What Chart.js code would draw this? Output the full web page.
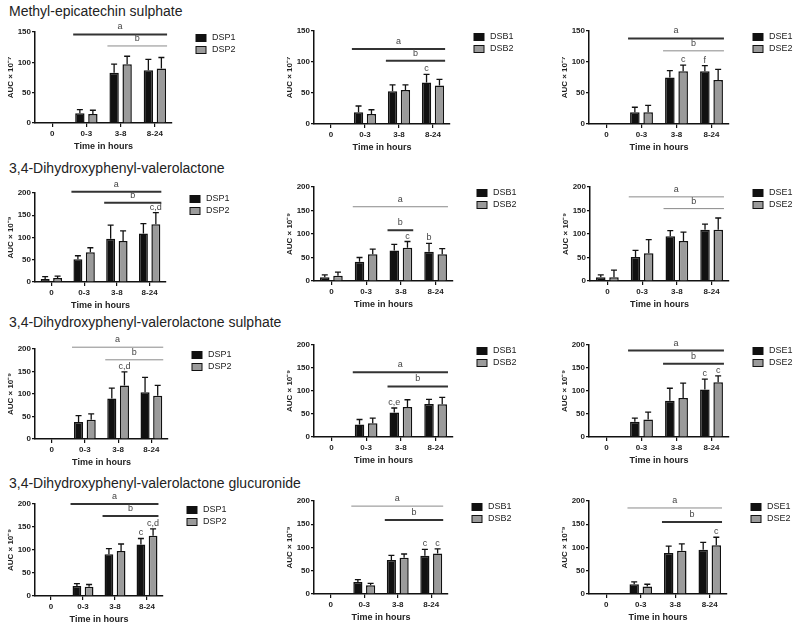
<!DOCTYPE html>
<html>
<head>
<meta charset="utf-8">
<script src="https://cdn.jsdelivr.net/npm/chart.js@4/dist/chart.umd.min.js"></script>
<style>
  body { margin: 0; background: #fff; width: 794px; height: 630px; position: relative; overflow: hidden;
         font-family: "Liberation Sans", Arial, sans-serif; }
  .ttl { position: absolute; left: 9px; font-size: 14px; line-height: 16px; color: #222; white-space: nowrap; }
  canvas { position: absolute; }
</style>
</head>
<body>
<script>
// ---- data ----
const categories = ['0', '0-3', '3-8', '8-24'];
const rowTitles = [
  'Methyl-epicatechin sulphate',
  '3,4-Dihydroxyphenyl-valerolactone',
  '3,4-Dihydroxyphenyl-valerolactone sulphate',
  '3,4-Dihydroxyphenyl-valerolactone glucuronide'
];
const yTitles = ['AUC × 10⁻⁷', 'AUC × 10⁻⁹', 'AUC × 10⁻⁹', 'AUC × 10⁻⁹'];
const yMax = [150, 200, 200, 200];
const groupNames = [['DSP1', 'DSP2'], ['DSB1', 'DSB2'], ['DSE1', 'DSE2']];

// methyl-epicatechin sulphate
const mesP1 = [0, 16, 83, 87],   mesP1sd = [0, 6, 14, 18];
const mesP2 = [0, 15, 97, 90],   mesP2sd = [0, 6, 13, 18];
const mesB1 = [0, 19, 53, 67],   mesB1sd = [0, 10, 10, 13];
const mesB2 = [0, 16, 55, 62],   mesB2sd = [0, 7, 8, 10];
const mesE1 = [0, 19, 75, 85],   mesE1sd = [0, 8, 11, 9];
const mesE2 = [0, 19, 85, 71],   mesE2sd = [0, 11, 10, 17];
// dihydroxyphenyl-valerolactone
const dvP1 = [7, 51, 97, 109],   dvP1sd = [5, 8, 31, 22];
const dvP2 = [9, 67, 92, 130],   dvP2sd = [4, 10, 23, 26];
const dvB1 = [8, 41, 65, 62],    dvB1sd = [5, 9, 13, 18];
const dvB2 = [11, 57, 71, 57],   dvB2sd = [8, 11, 13, 12];
const dvE1 = [8, 51, 95, 109],   dvE1sd = [5, 14, 12, 12];
const dvE2 = [8, 59, 85, 109],   dvE2sd = [15, 29, 19, 25];
// ... sulphate
const dvsP1 = [0, 38, 90, 104],  dvsP1sd = [0, 14, 23, 33];
const dvsP2 = [0, 43, 119, 96],  dvsP2sd = [0, 13, 30, 23];
const dvsB1 = [0, 27, 53, 72],   dvsB1sd = [0, 11, 10, 10];
const dvsB2 = [0, 30, 65, 71],   dvsB2sd = [0, 11, 16, 15];
const dvsE1 = [0, 33, 79, 103],  dvsE1sd = [0, 8, 27, 23];
const dvsE2 = [0, 38, 85, 119],  dvsE2sd = [0, 16, 32, 14];
// ... glucuronide
const dvgP1 = [0, 22, 91, 112],  dvgP1sd = [0, 5, 12, 13];
const dvgP2 = [0, 20, 98, 131],  dvgP2sd = [0, 5, 15, 15];
const dvgB1 = [0, 26, 73, 82],   dvgB1sd = [0, 5, 10, 14];
const dvgB2 = [0, 19, 78, 87],   dvgB2sd = [0, 4, 8, 10];
const dvgE1 = [0, 21, 88, 95],   dvgE1sd = [0, 5, 15, 16];
const dvgE2 = [0, 16, 93, 105],  dvgE2sd = [0, 5, 15, 17];

// letters above bars
const none = ['', '', '', ''];
const tagsMesB1 = ['', '', '', 'c'];
const tagsMesE1 = ['', '', '', 'f'],  tagsMesE2 = ['', '', 'c', ''];
const tagsDvP2 = ['', '', '', 'c,d'];
const tagsDvB1 = ['', '', '', 'b'],   tagsDvB2 = ['', '', 'c', ''];
const tagsDvsP2 = ['', '', 'c,d', ''];
const tagsDvsB1 = ['', '', 'c,e', ''];
const tagsDvsE = ['', '', '', 'c'];
const tagsDvgP1 = ['', '', '', 'c'],  tagsDvgP2 = ['', '', '', 'c,d'];
const tagsDvgB = ['', '', '', 'c'];
const tagsDvgE2 = ['', '', '', 'c'];

// significance lines: [from category, to category, y value, letter]
const linesMesP = [[1, 3, 146, 'a'], [2, 3, 127, 'b']];
const linesMesB = [[1, 3, 121, 'a'], [2, 3, 102, 'b']];
const linesMesE = [[1, 3, 138, 'a'], [2, 3, 118, 'b']];
const linesDvP  = [[1, 3, 203, 'a'], [2, 3, 178, 'b']];
const linesDvB  = [[1, 3, 158, 'a'], [2, 2, 108, 'b']];
const linesDvE  = [[1, 3, 179, 'a'], [2, 3, 154, 'b']];
const linesDvsP = [[1, 3, 204, 'a'], [2, 3, 176, 'b']];
const linesDvsB = [[1, 3, 141, 'a'], [2, 3, 110, 'b']];
const linesDvsE = [[1, 3, 188, 'a'], [2, 3, 159, 'b']];
const linesDvgP = [[1, 3, 200, 'a'], [2, 3, 174, 'b']];
const linesDvgB = [[1, 3, 189, 'a'], [2, 3, 159, 'b']];
const linesDvgE = [[1, 3, 185, 'a'], [2, 3, 155, 'b']];

// ---- layout / styles ----
// plot area of each panel in page pixels: left, top, right, bottom
const plotBoxes = [
  [[35, 32, 172, 123], [314, 31, 450, 124], [589, 31, 729, 124]],
  [[35, 193, 166, 282], [314, 187, 453, 281], [590, 187, 729, 281]],
  [[35, 349, 168, 439], [314, 345, 453, 437], [589, 345, 729, 437]],
  [[35, 504, 163, 596], [314, 501, 448, 594], [589, 501, 727, 594]]
];
const colStart = [0, 265, 530], colWidth = [265, 265, 264];
const titleTops = [3, 160, 314, 475];
// line weight of the a / b lines: 1 = heavy dark, 0 = thin grey
const lineHeavy = [
  [[1, 0], [1, 1], [1, 0]],
  [[1, 1], [0, 1], [0, 0]],
  [[0, 0], [1, 1], [1, 1]],
  [[1, 1], [0, 1], [0, 1]]
];
const FONT = '"Liberation Sans", Arial, sans-serif';
const DARK = '#111', GREY = '#9b9b9b';

const panels = [
  [
    { m: [mesP1, mesP2], s: [mesP1sd, mesP2sd], t: [none, none], lines: linesMesP },
    { m: [mesB1, mesB2], s: [mesB1sd, mesB2sd], t: [tagsMesB1, none], lines: linesMesB },
    { m: [mesE1, mesE2], s: [mesE1sd, mesE2sd], t: [tagsMesE1, tagsMesE2], lines: linesMesE }
  ],
  [
    { m: [dvP1, dvP2], s: [dvP1sd, dvP2sd], t: [none, tagsDvP2], lines: linesDvP },
    { m: [dvB1, dvB2], s: [dvB1sd, dvB2sd], t: [tagsDvB1, tagsDvB2], lines: linesDvB },
    { m: [dvE1, dvE2], s: [dvE1sd, dvE2sd], t: [none, none], lines: linesDvE }
  ],
  [
    { m: [dvsP1, dvsP2], s: [dvsP1sd, dvsP2sd], t: [none, tagsDvsP2], lines: linesDvsP },
    { m: [dvsB1, dvsB2], s: [dvsB1sd, dvsB2sd], t: [tagsDvsB1, none], lines: linesDvsB },
    { m: [dvsE1, dvsE2], s: [dvsE1sd, dvsE2sd], t: [tagsDvsE, tagsDvsE], lines: linesDvsE }
  ],
  [
    { m: [dvgP1, dvgP2], s: [dvgP1sd, dvgP2sd], t: [tagsDvgP1, tagsDvgP2], lines: linesDvgP },
    { m: [dvgB1, dvgB2], s: [dvgB1sd, dvgB2sd], t: [tagsDvgB, tagsDvgB], lines: linesDvgB },
    { m: [dvgE1, dvgE2], s: [dvgE1sd, dvgE2sd], t: [none, tagsDvgE2], lines: linesDvgE }
  ]
];

rowTitles.forEach((txt, r) => {
  const d = document.createElement('div');
  d.className = 'ttl';
  d.style.top = titleTops[r] + 'px';
  d.textContent = txt;
  document.body.appendChild(d);
});

function extrasFor(p, heavy) {
  return {
    id: 'extras',
    afterDatasetsDraw(chart) {
      const ctx = chart.ctx, ys = chart.scales.y, area = chart.chartArea;
      ctx.save();
      // error bars + letters
      chart.data.datasets.forEach((ds, di) => {
        const meta = chart.getDatasetMeta(di);
        meta.data.forEach((bar, i) => {
          const v = ds.data[i];
          if (!v) return;
          const ye = ys.getPixelForValue(v + p.s[di][i]);
          ctx.strokeStyle = DARK;
          ctx.lineWidth = 1.3;
          ctx.beginPath();
          ctx.moveTo(bar.x, bar.y);
          ctx.lineTo(bar.x, ye);
          ctx.moveTo(bar.x - 3, ye);
          ctx.lineTo(bar.x + 3, ye);
          ctx.stroke();
          const tag = p.t[di][i];
          if (tag) {
            ctx.fillStyle = '#444';
            ctx.font = '9px ' + FONT;
            ctx.textAlign = 'center';
            ctx.textBaseline = 'bottom';
            ctx.fillText(tag, bar.x, ye - 1);
          }
        });
      });
      // significance lines
      const m0 = chart.getDatasetMeta(0), m1 = chart.getDatasetMeta(1);
      p.lines.forEach((ln, k) => {
        const b0 = m0.data[ln[0]], b1 = m1.data[ln[1]];
        const x1 = b0.x - b0.width / 2 - 2, x2 = b1.x + b1.width / 2 + 1;
        const py = ys.getPixelForValue(ln[2]);
        ctx.strokeStyle = heavy[k] ? '#333' : '#8a8a8a';
        ctx.lineWidth = heavy[k] ? 2 : 1;
        ctx.beginPath();
        ctx.moveTo(x1, py);
        ctx.lineTo(x2, py);
        ctx.stroke();
        ctx.fillStyle = '#444';
        ctx.font = '9px ' + FONT;
        ctx.textAlign = 'center';
        ctx.textBaseline = 'bottom';
        ctx.fillText(ln[3], (x1 + x2) / 2, py - 3);
      });
      // legend
      chart.data.datasets.forEach((ds, di) => {
        const lx = area.right + 24, ly = area.top + 6 + di * 12;
        ctx.fillStyle = ds.backgroundColor;
        ctx.fillRect(lx, ly - 3.5, 10, 7);
        ctx.strokeStyle = DARK;
        ctx.lineWidth = 1;
        ctx.strokeRect(lx, ly - 3.5, 10, 7);
        ctx.fillStyle = '#222';
        ctx.font = '9px ' + FONT;
        ctx.textAlign = 'left';
        ctx.textBaseline = 'middle';
        ctx.fillText(ds.label, lx + 16, ly);
      });
      ctx.restore();
    }
  };
}

const Y_AXIS_W = 29, X_AXIS_H = 30;

panels.forEach((row, r) => {
  row.forEach((p, c) => {
    const [L, T, R, B] = plotBoxes[r][c];
    const top = T - 26, h = B - top + 34;
    const cv = document.createElement('canvas');
    cv.width = colWidth[c];
    cv.height = h;
    cv.style.left = colStart[c] + 'px';
    cv.style.top = top + 'px';
    document.body.appendChild(cv);

    const tickFont = { family: FONT, size: 8, weight: 'bold' };
    new Chart(cv.getContext('2d'), {
      type: 'bar',
      data: {
        labels: categories,
        datasets: [0, 1].map((k) => ({
          label: groupNames[c][k],
          data: p.m[k],
          backgroundColor: k ? GREY : DARK,
          borderColor: DARK,
          borderWidth: 1.5,
          categoryPercentage: 0.76,
          barPercentage: 0.72
        }))
      },
      options: {
        responsive: false,
        animation: false,
        devicePixelRatio: 1,
        layout: {
          padding: {
            left: L - colStart[c] - Y_AXIS_W,
            top: T - top,
            right: colStart[c] + colWidth[c] - R,
            bottom: h - (B - top) - X_AXIS_H
          }
        },
        plugins: { legend: { display: false }, tooltip: { enabled: false } },
        scales: {
          x: {
            offset: true,
            grid: { drawOnChartArea: false, offset: false, tickLength: 4, color: DARK, lineWidth: 1.2 },
            border: { color: DARK, width: 1.5 },
            ticks: { font: tickFont, color: '#222', padding: 2, maxRotation: 0 },
            title: { display: true, text: 'Time in hours', color: '#222',
                     font: { family: FONT, size: 9, weight: 'bold' }, padding: { top: 0, bottom: 1 } },
            afterFit: (s) => { s.height = X_AXIS_H; }
          },
          y: {
            min: 0,
            max: yMax[r],
            grid: { drawOnChartArea: false, tickLength: 3, color: DARK, lineWidth: 1.2 },
            border: { color: DARK, width: 1.5 },
            ticks: { stepSize: 50, font: tickFont, color: '#222', padding: 1 },
            title: { display: true, text: yTitles[r], color: '#222',
                     font: { family: FONT, size: 8, weight: 'bold' }, padding: 0 },
            afterFit: (s) => { s.width = Y_AXIS_W; }
          }
        }
      },
      plugins: [extrasFor(p, lineHeavy[r][c])]
    });
  });
});
</script>
</body>
</html>
